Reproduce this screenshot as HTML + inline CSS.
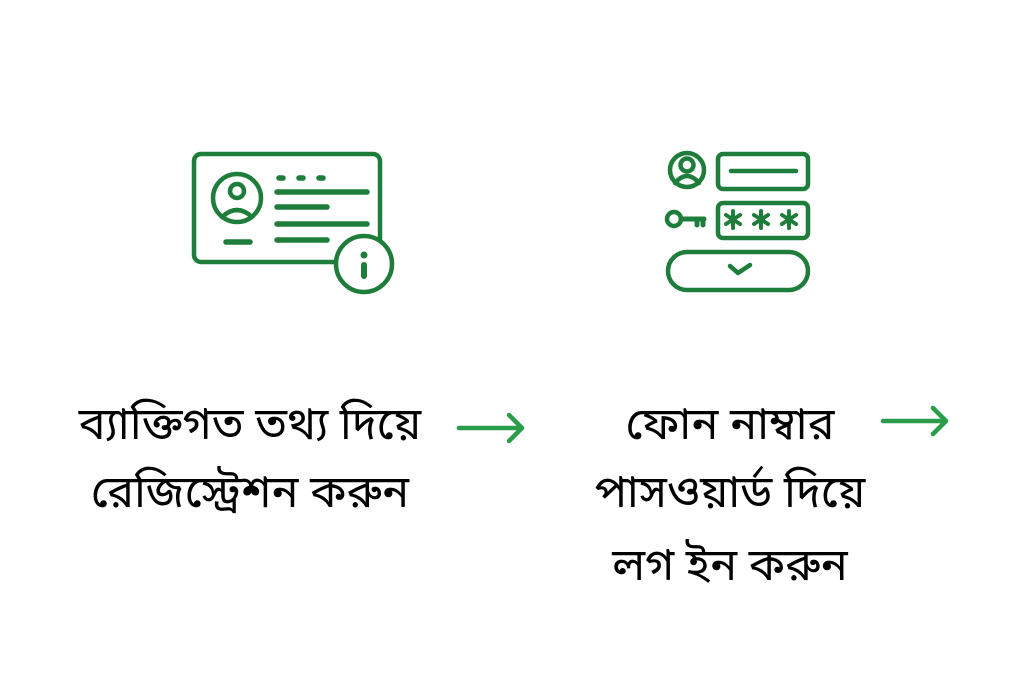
<!DOCTYPE html>
<html><head><meta charset="utf-8"><style>
html,body{margin:0;padding:0;background:#fff;width:1024px;height:680px;overflow:hidden}
.t{position:absolute;font-family:"Noto Sans Bengali","Noto Serif Bengali","Lohit Bengali","Liberation Serif",serif;font-size:45px;color:#000;white-space:nowrap;text-align:center;line-height:1}
</style></head><body>
<svg width="1024" height="680" style="position:absolute;left:0;top:0" fill="none" stroke="#1e7d3a" stroke-width="4.5" stroke-linecap="round" stroke-linejoin="round">
<rect x="194" y="154" width="186" height="108" rx="7"/>
<circle cx="237" cy="198" r="24"/>
<circle cx="237" cy="191" r="7"/>
<path d="M222 217 Q237 203 252 217"/>
<g stroke-width="5.5">
<path d="M279 178h4M299 178h4M319 178h4"/>
<path d="M277 192h90M277 207h50M277 224h90M277 240h50M226 242h24"/>
</g>
<circle cx="364" cy="264" r="28" fill="#fff"/>
<path d="M364 255v0" stroke-width="7"/>
<path d="M364 265v11" stroke-width="6"/>
<circle cx="687" cy="170" r="17"/>
<circle cx="687" cy="165" r="6.5"/>
<path d="M675 183 Q687 169 699 183"/>
<rect x="718" y="154" width="90" height="35" rx="5"/>
<path d="M731 171h65"/>
<circle cx="674" cy="219" r="7"/>
<path d="M681 219h23M697 219v6M703 219v6" stroke-width="5"/>
<rect x="718" y="203" width="90" height="35" rx="5"/>
<g stroke-width="4">
<path d="M733 211v17M726 215l14 9M726 224l14-9"/>
<path d="M761 211v17M754 215l14 9M754 224l14-9"/>
<path d="M789 211v17M782 215l14 9M782 224l14-9"/>
</g>
<rect x="668" y="252" width="140" height="38" rx="19"/>
<path d="M730 266l8 7 12-8"/>
<g stroke="#2a9d4a" stroke-width="4.5">
<path d="M459 428h63M509 415l13 13-13 13"/>
<path d="M883 421h63M933 408l13 13-13 13"/>
</g>
</svg>
<div class="t" style="left:50px;top:406px;width:400px">ব্যাক্তিগত তথ্য দিয়ে</div>
<div class="t" style="left:50px;top:474px;width:400px">রেজিস্ট্রেশন করুন</div>
<div class="t" style="left:530px;top:406px;width:400px">ফোন নাম্বার</div>
<div class="t" style="left:530px;top:474px;width:400px">পাসওয়ার্ড দিয়ে</div>
<div class="t" style="left:530px;top:547px;width:400px">লগ ইন করুন</div>
</body></html>
